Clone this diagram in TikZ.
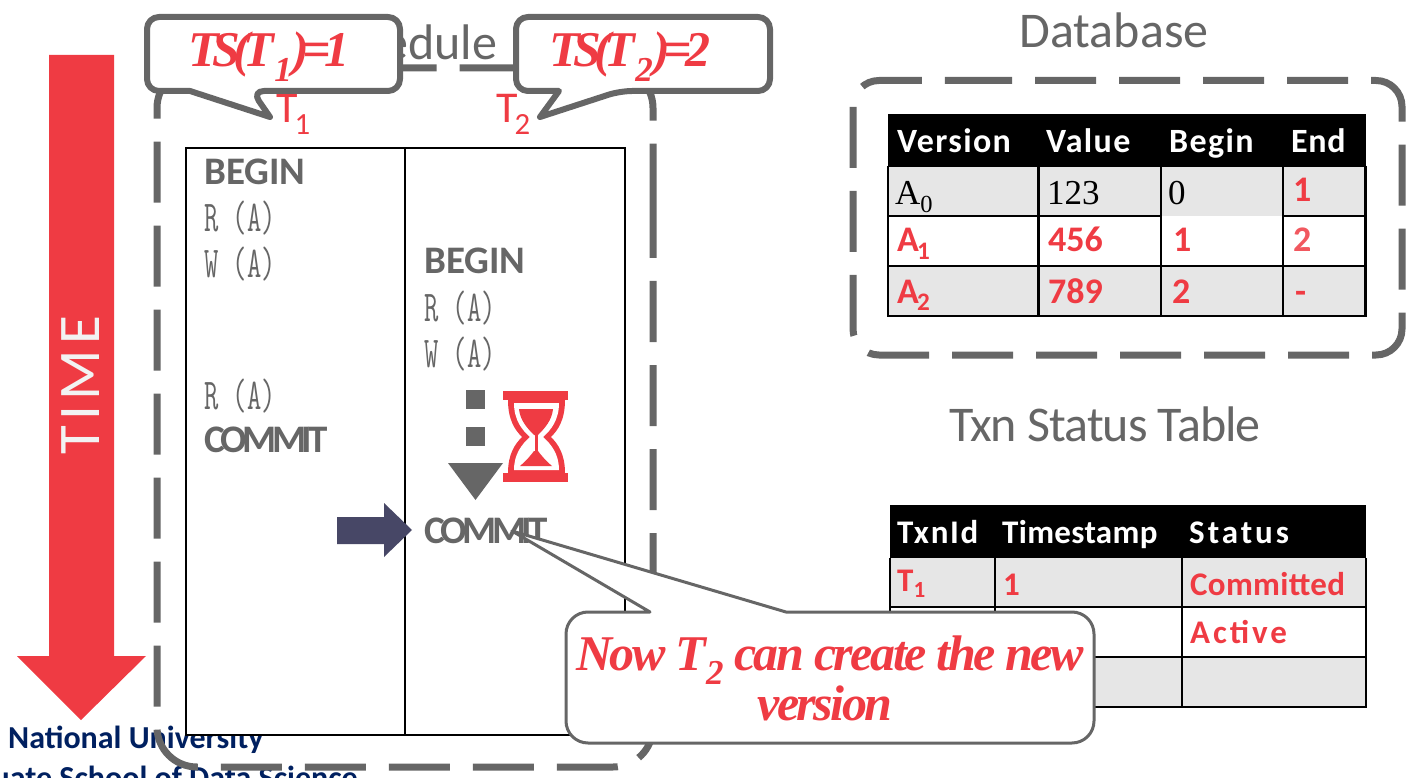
\documentclass[tikz,border=0pt]{standalone}
\usepackage{fontspec}
\setmainfont{Carlito}
\newfontfamily\slabfont[FakeStretch=.63]{Latin Modern Mono}
\newfontfamily\plainfont{Liberation Serif}

\definecolor{slidered}{HTML}{EF3B43}
\definecolor{slidegray}{HTML}{666666}
\definecolor{cellgray}{HTML}{E6E6E6}
\definecolor{arrownavy}{HTML}{474766}
\definecolor{footnavy}{HTML}{002060}

\tikzset{
  txt/.style={inner sep=0pt, anchor=base west},
  title/.style={txt, anchor=base, text=slidegray, font=\fontsize{50}{50}\selectfont},
  opbold/.style={txt, text=slidegray, font=\fontsize{39}{39}\selectfont\bfseries},
  optext/.style={txt, text=slidegray, font=\fontsize{44}{44}\slabfont\selectfont},
  tshead/.style={txt, text=white, font=\fontsize{34}{34}\selectfont\bfseries},
  cellred/.style={txt, text=slidered, font=\fontsize{36}{36}\selectfont\bfseries},
  cellthin/.style={txt, text=black, font=\fontsize{35}{35}\plainfont\selectfont},
  saytext/.style={inner sep=0pt, anchor=base, text=slidered, font=\fontsize{50}{50}\plainfont\selectfont\bfseries\itshape\addfontfeature{LetterSpace=-5}},
  dashbox/.style={draw=slidegray, line width=7pt, dash pattern=on 61pt off 23pt},
  saybox/.style={draw=slidegray, fill=white, line join=round, rounded corners=12pt},
  tablecol/.style={black, line width=2.5pt}
}
\newcommand{\spc}[2]{{\addfontfeature{LetterSpace=#1}#2}}

\begin{document}
\begin{tikzpicture}[x=1pt, y=-1pt]
  \useasboundingbox (0, 0) rectangle (1417, 778);
  \clip (0, 0) rectangle (1417, 778);

  % logo text under everything
  \node [txt, anchor=base west, text=footnavy, font=\fontsize{32}{32}\selectfont\bfseries] (footone) at (8, 748) {National University};
  \node [txt, anchor=base east, text=footnavy, font=\fontsize{32}{32}\selectfont\bfseries] (foottwo) at (358, 788) {uate School of Data Science};

  % time arrow
  \fill [slidered] (49, 55) -- (114, 55) -- (114, 656) -- (146, 656) -- (81, 720) -- (17, 656) -- (49, 656) -- cycle;
  \node [inner sep=0pt, rotate=90, text=white!95!black, font=\fontsize{59}{59}\selectfont\addfontfeature{LetterSpace=9}] (timelabel) at (81, 385) {TIME};

  % schedule
  \draw [dashbox, rounded corners=40pt] (653, 157) -- (653, 767) -- (157, 767) -- (157, 68) -- (653, 68) -- cycle;
  \node [title] (schedulelabel) at (405, 60) {Schedule};

  \draw [black, fill=white, line width=2pt] (185.5, 148) rectangle (625, 735);
  \draw [black, line width=2pt] (405, 148) -- (405, 735);

  \node [opbold] (beginone) at (204, 185) {BEGIN};
  \node [optext] (readone) at (204, 232) {R (A)};
  \node [optext] (writeone) at (204, 278) {W (A)};
  \node [optext] (readthree) at (204, 409) {R (A)};
  \node [opbold] (commitone) at (204, 452) {\spc{-11}{COMMIT}};

  \node [opbold] (begintwo) at (424, 274) {BEGIN};
  \node [optext] (readtwo) at (424, 321) {R (A)};
  \node [optext] (writetwo) at (424, 367) {W (A)};
  \node [opbold] (committwo) at (424, 543) {\spc{-11}{COMMIT}};

  % waiting marks
  \fill [slidegray] (466, 390) rectangle (485, 409);
  \fill [slidegray] (466, 427) rectangle (485, 446);
  \fill [slidegray] (448, 463) -- (503, 463) -- (475.5, 500) -- cycle;

  % hourglass
  \fill [slidered] (503, 391) rectangle (568, 400);
  \fill [slidered] (503, 473) rectangle (568, 482);
  \fill [slidered] (508, 400) .. controls (508, 420) and (515, 430) .. (522, 437) .. controls (515, 444) and (508, 454) .. (508, 473) -- (565, 473) .. controls (565, 454) and (558, 444) .. (551, 437) .. controls (558, 430) and (565, 420) .. (565, 400) -- cycle;
  \fill [white] (514, 403) .. controls (514, 420) and (522, 430) .. (530, 437) .. controls (522, 444) and (514, 454) .. (514, 470) -- (559, 470) .. controls (559, 454) and (551, 444) .. (543, 437) .. controls (551, 430) and (559, 420) .. (559, 403) -- cycle;
  \fill [slidered] (519, 409) -- (553, 409) .. controls (552, 420) and (545, 428) .. (538, 435) -- (534, 435) .. controls (527, 428) and (520, 420) .. (519, 409) -- cycle;
  \fill [slidered] (534.5, 435) rectangle (537.5, 452);
  \fill [slidered] (520, 466) .. controls (527, 460) and (531, 455) .. (534, 451) -- (538, 451) .. controls (541, 455) and (545, 460) .. (552, 466) -- cycle;

  % current position
  \fill [arrownavy] (337, 517) -- (384, 517) -- (384, 503) -- (412, 530) -- (384, 557) -- (384, 544) -- (337, 544) -- cycle;

  % txn names
  \node [txt, text=slidered, font=\fontsize{44}{44}\selectfont] (nameone) at (276, 123) {T\kern-3pt\textsubscript{1}};
  \node [txt, text=slidered, font=\fontsize{44}{44}\selectfont] (nametwo) at (496, 123) {T\kern-3pt\textsubscript{2}};

  % timestamp callouts
  \draw [saybox, line width=6pt] (147, 17) -- (400, 17) -- (400, 91) -- (252, 91) [sharp corners] -- (270, 117) -- (190, 91) [rounded corners=12pt] -- (147, 91) -- cycle;
  \draw [saybox, line width=6pt] (516, 17) -- (770, 17) -- (770, 91) -- (620, 91) [sharp corners] -- (540, 117) -- (559, 91) [rounded corners=12pt] -- (516, 91) -- cycle;
  \node [saytext] (tsone) at (269, 67) {\spc{-13}{TS(T\textsubscript{1})=1}};
  \node [saytext] (tstwo) at (630, 67) {\spc{-13}{TS(T\textsubscript{2})=2}};

  % database
  \node [title] (databaselabel) at (1114, 48) {Database};
  \draw [dashbox, rounded corners=26pt] (925, 80.5) -- (1402, 80.5) -- (1402, 355) -- (853, 355) -- (853, 80.5) -- cycle;

  \fill [cellgray] (888, 166) rectangle (1366, 216);
  \fill [cellgray] (888, 266) rectangle (1366, 316);
  \fill [black] (888, 114) rectangle (1366, 167);
  \draw [tablecol] (888, 166) -- (888, 316);
  \draw [tablecol] (1038.5, 166) -- (1038.5, 316);
  \draw [tablecol] (1161, 166) -- (1161, 316);
  \draw [tablecol] (1283, 166) -- (1283, 316);
  \draw [tablecol] (1365.5, 166) -- (1365.5, 316);
  \draw [tablecol] (888, 216) -- (1161, 216);
  \draw [tablecol] (1283, 216) -- (1366, 216);
  \draw [tablecol] (888, 266) -- (1366, 266);
  \draw [tablecol] (887, 316) -- (1367, 316);

  \node [tshead] (headversion) at (897, 153) {\spc{4}{Version}};
  \node [tshead] (headvalue) at (1046, 153) {\spc{4}{Value}};
  \node [tshead] (headbegin) at (1169, 153) {\spc{4}{Begin}};
  \node [tshead] (headend) at (1291, 153) {\spc{2}{End}};

  \node [cellthin] (versionzero) at (895, 205) {A\textsubscript{0}};
  \node [cellthin] (valuezero) at (1047, 205) {123};
  \node [cellthin] (beginzero) at (1168, 205) {0};
  \node [cellred] (endzero) at (1293, 202) {1};

  \node [cellred] (versiona) at (897, 252) {A\kern-2pt\textsubscript{1}};
  \node [cellred] (valuea) at (1048, 252) {456};
  \node [cellred] (begina) at (1173, 252) {1};
  \node [cellred, text=slidered!85!white] (enda) at (1293, 252) {2};

  \node [cellred] (versionb) at (897, 303) {A\kern-2pt\textsubscript{2}};
  \node [cellred] (valueb) at (1048, 303) {789};
  \node [cellred] (beginb) at (1172, 303) {2};
  \node [cellred] (endb) at (1295, 303) {-};

  % status table
  \node [title] (statuslabel) at (1105, 441) {\spc{-2}{Txn Status Table}};

  \fill [cellgray] (890, 558) rectangle (1366, 607);
  \fill [cellgray] (890, 657) rectangle (1366, 707);
  \fill [black] (890, 505) rectangle (1366, 558);
  \draw [tablecol] (890, 558) -- (890, 707);
  \draw [tablecol] (995, 558) -- (995, 707);
  \draw [tablecol] (1182, 558) -- (1182, 707);
  \draw [tablecol] (1366, 558) -- (1366, 707);
  \draw [tablecol] (890, 607) -- (1366, 607);
  \draw [tablecol] (890, 657) -- (1366, 657);
  \draw [tablecol] (889, 707) -- (1367, 707);

  \node [tshead, font=\fontsize{33}{33}\selectfont\bfseries] (headtxnid) at (897, 543) {\spc{5}{TxnId}};
  \node [tshead, font=\fontsize{33}{33}\selectfont\bfseries] (headstamp) at (1002, 543) {\spc{1}{Timestamp}};
  \node [tshead, font=\fontsize{33}{33}\selectfont\bfseries] (headstatus) at (1189, 543) {\spc{9}{Status}};

  \node [cellred, font=\fontsize{33}{33}\selectfont\bfseries] (txnone) at (897, 591) {T\textsubscript{1}};
  \node [cellred, font=\fontsize{33}{33}\selectfont\bfseries] (stampone) at (1003, 595) {1};
  \node [cellred, font=\fontsize{33}{33}\selectfont\bfseries] (statusone) at (1190, 595) {\spc{1}{Committed}};
  \node [cellred, font=\fontsize{33}{33}\selectfont\bfseries] (statustwo) at (1190, 643) {\spc{9}{Active}};

  % note on commit
  \coordinate (committip) at (512, 531);
  \draw [saybox, line width=3pt, rounded corners=22pt] (566, 612) [sharp corners] -- (650, 612) -- (committip) -- (786, 612) [rounded corners=22pt] -- (1094, 612) -- (1094, 743) -- (566, 743) -- cycle;
  \node [saytext] (notetext) at (830, 670) {Now T\textsubscript{2} can create the new};
  \node [saytext] (noteversion) at (825, 720) {version};
\end{tikzpicture}
\end{document}
